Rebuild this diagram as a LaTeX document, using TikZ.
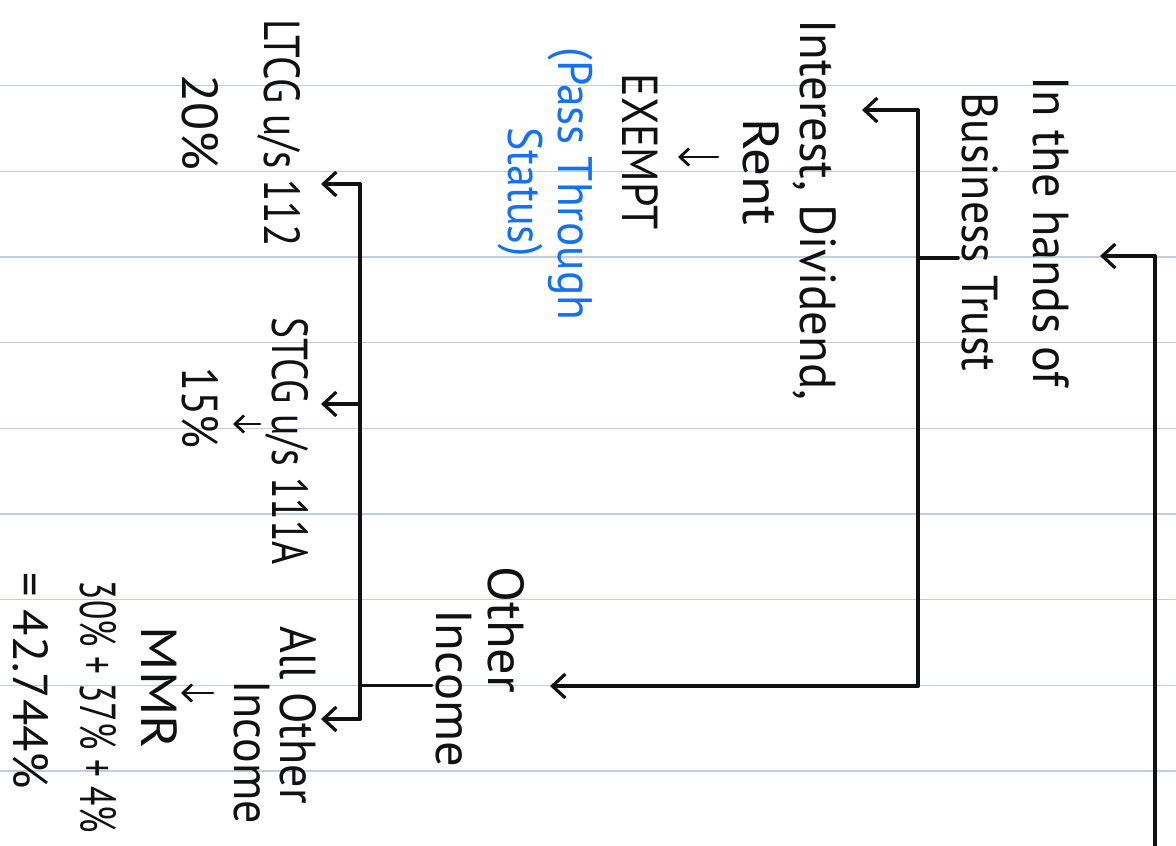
\documentclass[tikz,border=0pt]{standalone}
\usepackage{fontspec}
\setmainfont{PT Sans}
\usetikzlibrary{arrows.meta}
\definecolor{rule}{HTML}{C3CDE0}
\definecolor{pen}{HTML}{111111}
\definecolor{bluepen}{HTML}{1670F0}
\tikzset{
  hw/.style={rotate=-90, yscale=1.1, inner sep=0pt, anchor=base, text=pen,
    font=\fontsize{46}{52}\selectfont},
  hwblue/.style={hw, text=bluepen, font=\fontsize{44}{50}\selectfont},
  wire/.style={draw=pen, line width=3.6pt, line cap=round, line join=round},
  arr/.style={wire, line width=3.2pt, -{Straight Barb[length=13pt,width=24pt,line width=3.2pt]}},
  smallarr/.style={wire, line width=2.8pt, -{Straight Barb[length=9pt,width=17pt,line width=2.8pt]}},
}
\begin{document}
\begin{tikzpicture}[x=1pt,y=-1pt]
\useasboundingbox (0,0) rectangle (1176,846);
\fill[white] (0,0) rectangle (1176,846);
% ruled paper
\foreach \k in {0,...,8}{
  \draw[rule, line width=1.4pt] (0,{85.5+85.7*\k}) -- (1176,{85.5+85.7*\k});
}
% texts
\node[hw, xscale=1.05] (hands) at (1033,232) {In the hands of};
\node[hw] (trust) at (962,232) {Business Trust};
\node[hw, xscale=1.06] (interest) at (800,210) {Interest, Dividend,};
\node[hw, xscale=1.2] (rent) at (743,172) {Rent};
\node[hw, xscale=0.95] (exempt) at (622,152) {EXEMPT};
\node[hwblue, xscale=1.03] (pass) at (558,184) {(Pass Through};
\node[hwblue] (status) at (508,192) {Status)};
\node[hw, xscale=1.14] (other) at (488,630) {Other};
\node[hw, xscale=1.1] (income) at (436,688) {Income};
\node[hw, xscale=0.89] (ltcg) at (264,133) {LTCG u/s 112};
\node[hw, xscale=1.12] (twenty) at (182,122) {20\%};
\node[hw, xscale=0.86] (stcg) at (272,441) {STCG u/s 111A};
\node[hw, xscale=0.95] (fifteen) at (182,408) {15\%};
\node[hw] (allother) at (280,715) {All Other};
\node[hw] (income2) at (234,752) {Income};
\node[hw, xscale=1.22] (mmr) at (141,688) {MMR};
\node[hw, xscale=0.77] (rate) at (80,707) {30\% + 37\% + 4\%};
\node[hw, xscale=1.05, yscale=0.97] (total) at (13,681) {= 42.744\%};
% coordinates
\coordinate (rbot) at (1155,846);
\coordinate (rtop) at (1155,256);
\coordinate (tipA) at (1100,256);
\coordinate (b1top) at (918,110);
\coordinate (b1mid) at (918,258);
\coordinate (b1bot) at (918,686);
\coordinate (b1stub) at (958,258);
\coordinate (tipInt) at (862,110);
\coordinate (tipOth) at (550,686);
\coordinate (exA) at (718,157);
\coordinate (exB) at (678,157);
\coordinate (b2top) at (360,184);
\coordinate (b2mid) at (360,404);
\coordinate (b2bot) at (360,719);
\coordinate (b2stub) at (360,685);
\coordinate (incStub) at (432,685);
\coordinate (tipL) at (321,184);
\coordinate (tipS) at (321,404);
\coordinate (tipA2) at (321,719);
\coordinate (stA) at (260,424);
\coordinate (stB) at (233,424);
\coordinate (aoA) at (213,693);
\coordinate (aoB) at (181,693);
% connectors
\draw[wire] (rbot) -- (rtop);
\draw[arr] (rtop) -- (tipA);
\draw[wire] (b1top) -- (b1bot);
\draw[wire] (b1mid) -- (b1stub);
\draw[arr] (b1top) -- (tipInt);
\draw[arr] (b1bot) -- (tipOth);
\draw[smallarr] (exA) -- (exB);
\draw[wire] (b2top) -- (b2bot);
\draw[wire, line width=3pt] (b2stub) -- (incStub);
\draw[arr] (b2top) -- (tipL);
\draw[arr] (b2mid) -- (tipS);
\draw[arr] (b2bot) -- (tipA2);
\draw[smallarr] (stA) -- (stB);
\draw[smallarr] (aoA) -- (aoB);
\end{tikzpicture}
\end{document}
